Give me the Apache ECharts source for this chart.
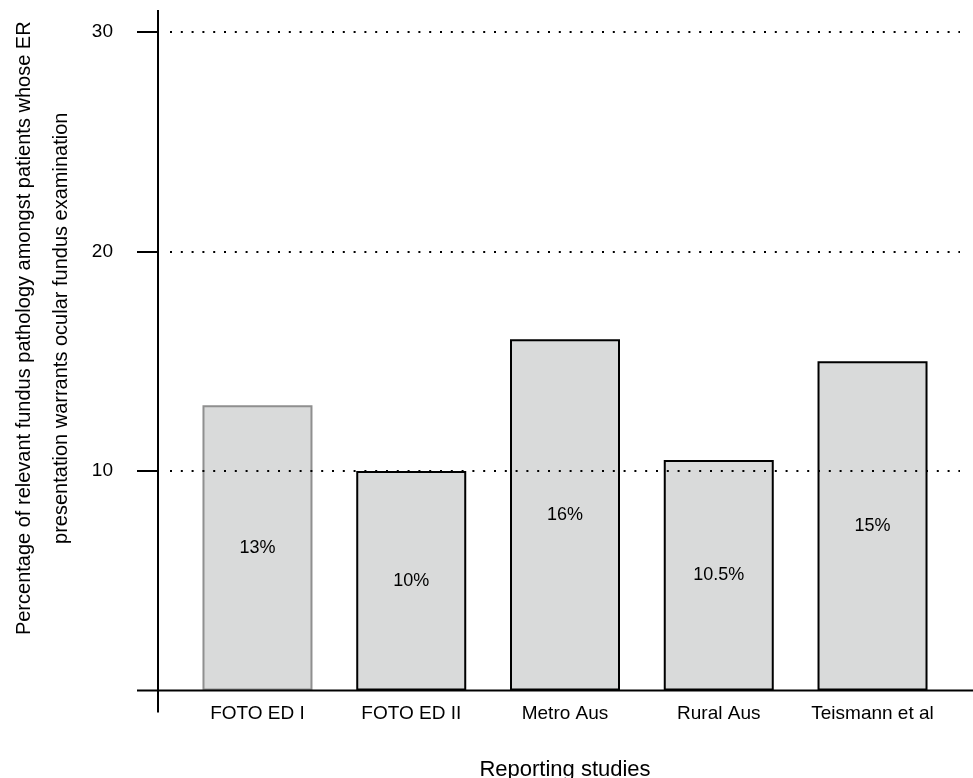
<!DOCTYPE html>
<html>
<head>
<meta charset="utf-8">
<script src="https://cdn.jsdelivr.net/npm/echarts@6/dist/echarts.min.js"></script>
<style>
  html, body { margin: 0; padding: 0; background: #fff; }
  #chart { width: 973px; height: 778px; }
</style>
</head>
<body>
<div id="chart"></div>
<script>
// Share of relevant fundus pathology reported by each study (%)
const studies = ['FOTO ED I', 'FOTO ED II', 'Metro Aus', 'Rural Aus', 'Teismann et al'];
const pathologyPct = [13, 10, 16, 10.5, 15];
const yTickValues = [10, 20, 30];
const yMax = 31;

const FONT = '"Liberation Sans", Arial, Helvetica, sans-serif';
const INK = '#000';

const chart = echarts.init(document.getElementById('chart'), null, { renderer: 'canvas' });

const barData = pathologyPct.map((v, i) => ({
  value: v,
  // the first study is outlined in grey, the rest in black
  itemStyle: { borderColor: i === 0 ? '#8f8f8f' : INK }
}));

const option = {
  animation: false,
  backgroundColor: '#fff',
  textStyle: { fontFamily: FONT, color: INK },
  grid: [
    // plotting area for the bars
    { left: 180.6, right: 23.6, top: 10, bottom: 87.5, outerBoundsMode: 'none', containLabel: false },
    // wider band for the dotted reference lines
    { left: 170, right: 13, top: 32, bottom: 87.5, outerBoundsMode: 'none', containLabel: false }
  ],
  xAxis: [
    {
      type: 'category',
      gridIndex: 0,
      data: studies,
      axisLine: { show: false },
      axisTick: { show: false },
      axisLabel: { color: INK, fontSize: 19, fontFamily: FONT, margin: 13.5, interval: 0, hideOverlap: false },
      name: 'Reporting studies',
      nameLocation: 'middle',
      nameGap: 68,
      nameTextStyle: { color: INK, fontSize: 22, fontFamily: FONT }
    },
    { type: 'value', gridIndex: 1, show: false, min: 0, max: 1 }
  ],
  yAxis: [
    {
      type: 'value',
      gridIndex: 0,
      min: 0,
      max: yMax,
      offset: 22.6,
      axisLine: { show: false },
      axisTick: {
        show: true,
        length: 21,
        customValues: yTickValues,
        lineStyle: { color: INK, width: 2 }
      },
      axisLabel: {
        color: INK,
        fontSize: 19,
        fontFamily: FONT,
        margin: 45,
        customValues: yTickValues
      },
      splitLine: { show: false },
      name: 'Percentage of relevant fundus pathology amongst patients whose ER\npresentation warrants ocular fundus examination',
      nameLocation: 'middle',
      nameGap: 78.5,
      nameTextStyle: {
        color: INK,
        fontSize: 20,
        fontFamily: FONT,
        lineHeight: 37,
        padding: [0, 0, 0, 44]
      }
    },
    {
      // dotted reference lines, drawn above the bars
      type: 'value',
      gridIndex: 1,
      min: 0,
      max: 30,
      interval: 10,
      z: 5,
      axisLine: { show: false },
      axisTick: { show: false },
      axisLabel: { show: false },
      splitLine: {
        show: true,
        showMinLine: false,
        lineStyle: { color: INK, width: 2, type: [2, 8.8] }
      }
    }
  ],
  series: [
    {
      type: 'bar',
      xAxisIndex: 0,
      yAxisIndex: 0,
      data: barData,
      barWidth: 110,
      itemStyle: { color: '#d9dada', borderColor: INK, borderWidth: 2 },
      label: {
        show: true,
        position: 'inside',
        color: INK,
        fontSize: 18,
        fontFamily: FONT,
        formatter: p => p.value + '%'
      },
      z: 2
    }
  ]
};

chart.setOption(option);

// Axis frame: the x axis line runs across the full width at value 0,
// the y axis line extends slightly below it.
const yZero = chart.convertToPixel({ yAxisIndex: 0 }, 0);
const yTop = chart.convertToPixel({ yAxisIndex: 0 }, yMax);
const axisX = chart.convertToPixel({ xAxisIndex: 0 }, 0) - 76.875 - 22.6;
chart.setOption({
  graphic: [
    {
      type: 'line',
      z: 100,
      shape: { x1: 137, y1: yZero, x2: 973, y2: yZero },
      style: { stroke: INK, lineWidth: 2 }
    },
    {
      type: 'line',
      z: 100,
      shape: { x1: axisX, y1: yTop, x2: axisX, y2: yZero + 22 },
      style: { stroke: INK, lineWidth: 2 }
    }
  ]
});
</script>
</body>
</html>
